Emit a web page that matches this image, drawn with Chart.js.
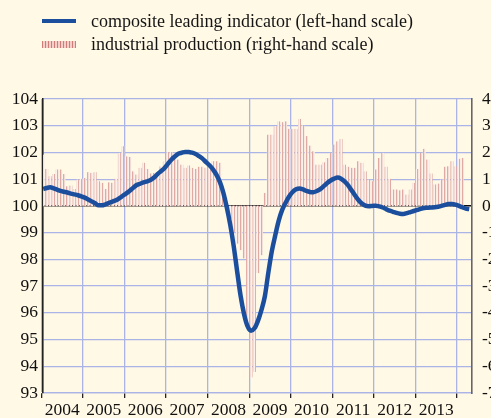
<!DOCTYPE html>
<html><head><meta charset="utf-8">
<script src="https://cdn.jsdelivr.net/npm/chart.js@4.4.0/dist/chart.umd.min.js"></script>
<style>
html,body{margin:0;padding:0;background:#fff9e6;}
#wrap{position:relative;width:491px;height:418px;overflow:hidden;background:#fff9e6;}
#c{position:absolute;left:0;top:0;}
.lt{position:absolute;left:91px;font-family:"Liberation Serif","Times New Roman",serif;font-size:18px;color:#151515;white-space:nowrap;line-height:20px;}
.sw1{position:absolute;left:42px;top:19px;width:34px;height:4px;background:#1b4f9e;}
.sw2{position:absolute;left:42px;top:41px;width:34px;height:7px;background:repeating-linear-gradient(90deg,#d27c78 0 1px,#f3cfc9 1px 3px);}
</style>
</head><body>
<div id="wrap">
<canvas id="c" width="491" height="418"></canvas>
<div class="sw1"></div><div class="lt" style="top:11px">composite leading indicator (left-hand scale)</div>
<div class="sw2"></div><div class="lt" style="top:34px">industrial production (right-hand scale)</div>
</div>
<script>
// monthly, Jan 2004 .. Apr 2014
const yearLabels = ['2004','2005','2006','2007','2008','2009','2010','2011','2012','2013'];
const leftTicks = [93,94,95,96,97,98,99,100,101,102,103,104];
const rightTicks = [-7,-6,-5,-4,-3,-2,-1,0,1,2,3,4];
const cliValues = [
100.63,100.67,100.70,100.66,100.61,100.56,100.53,100.50,100.46,100.43,100.40,100.36,
100.31,100.24,100.17,100.10,100.02,100.02,100.06,100.11,100.16,100.21,100.29,100.38,
100.47,100.57,100.68,100.78,100.83,100.88,100.92,100.97,101.06,101.19,101.30,101.41,
101.57,101.73,101.85,101.95,101.99,102.02,102.02,101.99,101.94,101.86,101.77,101.64,
101.52,101.37,101.17,100.90,100.50,99.95,99.30,98.50,97.55,96.63,95.95,95.50,
95.33,95.42,95.70,96.10,96.62,97.50,98.30,98.90,99.45,99.85,100.12,100.35,
100.52,100.62,100.65,100.62,100.56,100.52,100.51,100.56,100.63,100.74,100.86,100.95,
101.02,101.06,101.02,100.92,100.78,100.59,100.40,100.22,100.09,100.01,99.99,100.00,
100.01,99.98,99.94,99.88,99.82,99.78,99.74,99.71,99.70,99.73,99.77,99.81,
99.85,99.89,99.92,99.93,99.94,99.95,99.97,100.00,100.04,100.07,100.07,100.05,
100.00,99.95,99.90,99.88
];
const ipValues = [
1.90,1.37,1.10,1.18,1.35,1.35,1.18,0.72,0.75,0.62,0.97,1.00,
1.03,1.25,1.22,1.25,0.91,0.85,0.62,0.87,0.85,1.00,1.97,2.22,
1.84,1.82,1.28,1.16,1.41,1.60,1.37,1.20,1.22,1.22,1.47,1.66,
2.00,2.00,1.78,1.72,1.53,1.41,1.50,1.41,1.37,1.45,1.45,1.41,
1.35,1.66,1.66,1.60,0.30,-0.10,-0.46,-0.96,-1.40,-1.64,-1.95,-4.50,
-6.40,-6.20,-2.50,-1.83,0.47,2.65,2.65,2.97,3.15,3.12,3.15,2.87,
2.87,2.87,3.24,3.00,2.60,2.24,2.03,1.53,1.53,1.62,1.78,1.97,
2.28,2.40,2.49,1.53,1.45,1.41,1.41,1.66,1.60,1.28,0.97,0.91,
1.35,1.78,1.97,1.45,1.00,0.60,0.60,0.57,0.60,0.41,0.60,0.85,
1.37,1.97,2.12,1.72,1.20,0.79,0.82,0.97,1.45,1.47,1.66,1.47,
1.75,1.78,null,null
];

function stripePattern(){
  const c=document.createElement('canvas'); c.width=3; c.height=1;
  const g=c.getContext('2d');
  g.fillStyle='#e0aaa4'; g.fillRect(0,0,1,1);
  g.fillStyle='#f4dcd6'; g.fillRect(1,0,1,1);
  g.fillStyle='#fbf0ec'; g.fillRect(2,0,1,1);
  return g.createPattern(c,'repeat');
}

const cliPts = cliValues.map((v,i)=>({x:i+0.5,y:v}));
const ipPts = ipValues.map((v,i)=>({x:i+0.5,y:v}));
const GRID = '#aab4e6';
const FONT = {family:'"Liberation Serif","Times New Roman",serif', size:17.5};

new Chart(document.getElementById('c'), {
  data:{datasets:[
    {type:'line', label:'composite leading indicator (left-hand scale)', data:cliPts, yAxisID:'y', xAxisID:'x',
     borderColor:'#1b4f9e', borderWidth:4.5, pointRadius:0, tension:0.4, cubicInterpolationMode:'monotone', order:0},
    {type:'bar', label:'industrial production (right-hand scale)', data:ipPts, yAxisID:'y1', xAxisID:'x',
     backgroundColor:stripePattern(), borderWidth:0, barThickness:2.3, order:1}
  ]},
  options:{
    responsive:false, animation:false, events:[],
    layout:{padding:{top:99,left:0,right:0,bottom:0}},
    plugins:{legend:{display:false}, tooltip:{enabled:false}},
    scales:{
      x:{type:'linear', min:0.45, max:124.3, position:'bottom', offset:false,
        afterBuildTicks:(s)=>{const t=[];for(let v=0;v<=120;v+=6)t.push({value:v});s.ticks=t;},
        afterFit:(s)=>{s.height=25; s.paddingLeft=0; s.paddingRight=0;},
        ticks:{autoSkip:false, maxRotation:0, padding:2, color:'#111', font:FONT,
          callback:(v)=>{ if(v%12===6){const k=(v-6)/12; return yearLabels[k]||'';} return ''; }},
        grid:{offset:false, color:(c)=> (c.tick && c.tick.value%12===0) ? GRID : 'rgba(0,0,0,0)', lineWidth:1.3,
          tickColor:(c)=> (c.tick && c.tick.value%12===0) ? '#222' : 'rgba(0,0,0,0)', tickLength:5},
        border:{display:true,color:GRID,width:1.3}
      },
      y:{type:'linear', position:'left', min:93, max:104,
        afterBuildTicks:(s)=>{s.ticks=leftTicks.map(v=>({value:v}));},
        afterFit:(s)=>{s.width=43; s.paddingTop=0; s.paddingBottom=0;},
        ticks:{color:'#111', font:FONT, padding:5},
        grid:{color:(c)=> c.tick && c.tick.value===100 ? '#111' : GRID, lineWidth:(c)=> c.tick && c.tick.value===100 ? 1.6 : 1.3, drawTicks:false},
        border:{display:true,color:'#222',width:1.6}
      },
      y1:{type:'linear', position:'right', min:-7, max:4,
        afterBuildTicks:(s)=>{s.ticks=rightTicks.map(v=>({value:v}));},
        afterFit:(s)=>{s.width=19; s.paddingTop=0; s.paddingBottom=0;},
        ticks:{color:'#111', font:FONT, padding:10},
        grid:{display:false, drawTicks:false},
        border:{display:true,color:'#666',width:1.6}
      }
    }
  }
});
</script>
</body></html>
